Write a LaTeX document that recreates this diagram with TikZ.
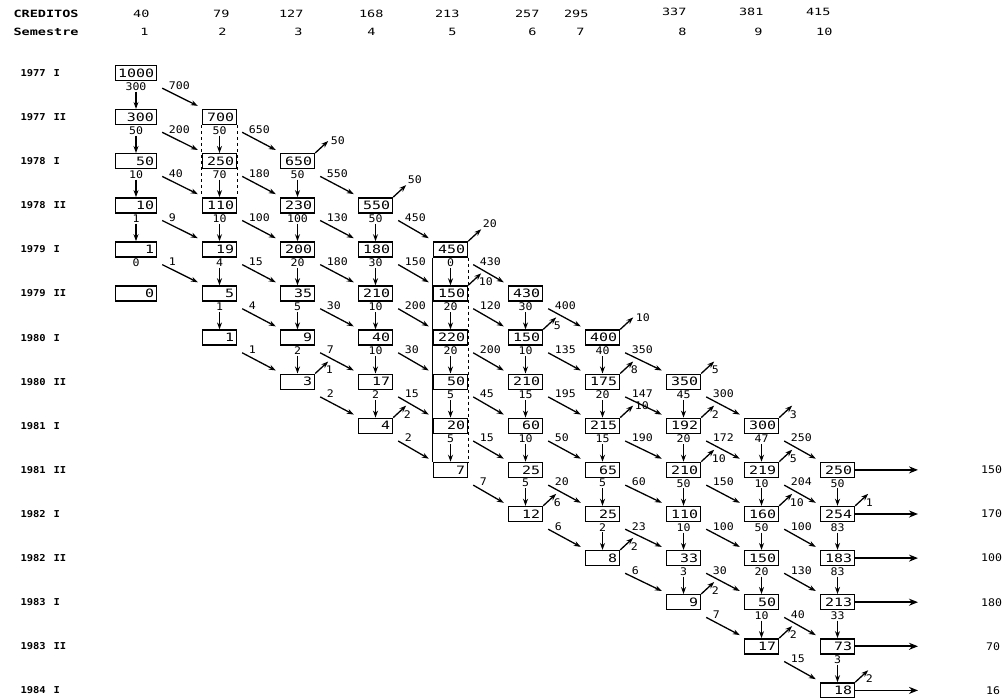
\documentclass[tikz,border=0pt]{standalone}
\usepackage{fontspec}
\usetikzlibrary{arrows.meta}

\newfontfamily\boxfont[FakeStretch=1.3]{DejaVu Sans Mono}
\newfontfamily\flowfont[FakeStretch=1.1]{DejaVu Sans Mono}
\newfontfamily\headfont[FakeStretch=1.35]{DejaVu Sans Mono}

\tikzset{
  cell/.style={draw, line width=1.4pt, minimum height=15pt, text width=29pt,
    align=right, inner xsep=2.5pt, inner ysep=0pt,
    font=\boxfont\fontsize{11.5}{12}\selectfont},
  widecell/.style={cell, text width=36pt},
  flow/.style={inner sep=1pt, font=\flowfont\fontsize{10.5}{10.5}\selectfont},
  flowarrow/.style={line width=1.3pt, -{Stealth[length=7pt,width=5pt]}},
  outarrow/.style={line width=1.7pt, -{Stealth[length=9pt,width=7pt]}},
  rowlabel/.style={anchor=west, font=\flowfont\bfseries\fontsize{9.5}{10}\selectfont},
  headlabel/.style={font=\headfont\fontsize{10}{10}\selectfont},
}

% down flow: source box, target box, amount
\newcommand{\flowdown}[3]{%
  \node[flow, anchor=north] (d-#1) at (#1.south) {#3};
  \draw[flowarrow] (d-#1.south) -- (#2.north);}
% diagonal flow to the next semester
\newcommand{\flowdiag}[3]{%
  \draw[flowarrow] ([shift={(5,7)}]#1.south east) -- ([shift={(-4,-3)}]#2.north west)
    node[flow, pos=0, anchor=west, xshift=5pt, yshift=3pt] {#3};}
% leaving students
\newcommand{\flowexit}[3][anchor=north west, xshift=-4pt, yshift=-3pt]{%
  \draw[flowarrow] (#2.north east) -- ++(13,-12) node[flow, #1] {#3};}

\begin{document}
\begin{tikzpicture}[x=1pt,y=-1pt]
\useasboundingbox (0,0) rectangle (1006,698);

% header
\node[headlabel, font=\headfont\bfseries\fontsize{10}{10}\selectfont, anchor=west] (cred) at (10,14) {CREDITOS};
\node[headlabel, font=\headfont\bfseries\fontsize{10}{10}\selectfont, anchor=west] (sem) at (10,32) {Semestre};

\node[headlabel, anchor=east] (k-1) at (153,14) {40};
\node[headlabel, anchor=east] (k-2) at (233,14) {79};
\node[headlabel, anchor=east] (k-3) at (307,14) {127};
\node[headlabel, anchor=east] (k-4) at (387,14) {168};
\node[headlabel, anchor=east] (k-5) at (463,14) {213};
\node[headlabel, anchor=east] (k-6) at (543,14) {257};
\node[headlabel, anchor=east] (k-7) at (592,14) {295};
\node[headlabel, anchor=east] (k-8) at (690,12) {337};
\node[headlabel, anchor=east] (k-9) at (767,12) {381};
\node[headlabel, anchor=east] (k-10) at (834,12) {415};

\node[headlabel, anchor=east] (s-1) at (152,32) {1};
\node[headlabel, anchor=east] (s-2) at (230,32) {2};
\node[headlabel, anchor=east] (s-3) at (306,32) {3};
\node[headlabel, anchor=east] (s-4) at (379,32) {4};
\node[headlabel, anchor=east] (s-5) at (460,32) {5};
\node[headlabel, anchor=east] (s-6) at (540,32) {6};
\node[headlabel, anchor=east] (s-7) at (588,32) {7};
\node[headlabel, anchor=east] (s-8) at (690,32) {8};
\node[headlabel, anchor=east] (s-9) at (766,32) {9};
\node[headlabel, anchor=east] (s-10) at (836,32) {10};

% periods
\node[rowlabel] (y-0) at (17,73.0) {1977\hspace{8pt}I};
\node[rowlabel] (y-1) at (17,117.1) {1977\hspace{8pt}II};
\node[rowlabel] (y-2) at (17,161.2) {1978\hspace{8pt}I};
\node[rowlabel] (y-3) at (17,205.3) {1978\hspace{8pt}II};
\node[rowlabel] (y-4) at (17,249.4) {1979\hspace{8pt}I};
\node[rowlabel] (y-5) at (17,293.5) {1979\hspace{8pt}II};
\node[rowlabel] (y-6) at (17,337.6) {1980\hspace{8pt}I};
\node[rowlabel] (y-7) at (17,381.7) {1980\hspace{8pt}II};
\node[rowlabel] (y-8) at (17,425.8) {1981\hspace{8pt}I};
\node[rowlabel] (y-9) at (17,469.9) {1981\hspace{8pt}II};
\node[rowlabel] (y-10) at (17,514.0) {1982\hspace{8pt}I};
\node[rowlabel] (y-11) at (17,558.1) {1982\hspace{8pt}II};
\node[rowlabel] (y-12) at (17,602.2) {1983\hspace{8pt}I};
\node[rowlabel] (y-13) at (17,646.3) {1983\hspace{8pt}II};
\node[rowlabel] (y-14) at (17,690.4) {1984\hspace{8pt}I};

% semester 1
\node[widecell] (b-1-0) at (136,73.0) {1000};
\node[widecell] (b-1-1) at (136,117.1) {300};
\node[widecell] (b-1-2) at (136,161.2) {50};
\node[widecell] (b-1-3) at (136,205.3) {10};
\node[widecell] (b-1-4) at (136,249.4) {1};
\node[widecell] (b-1-5) at (136,293.5) {0};
% semester 2
\node[cell] (b-2-1) at (219.5,117.1) {700};
\node[cell] (b-2-2) at (219.5,161.2) {250};
\node[cell] (b-2-3) at (219.5,205.3) {110};
\node[cell] (b-2-4) at (219.5,249.4) {19};
\node[cell] (b-2-5) at (219.5,293.5) {5};
\node[cell] (b-2-6) at (219.5,337.6) {1};
% semester 3
\node[cell] (b-3-2) at (297.5,161.2) {650};
\node[cell] (b-3-3) at (297.5,205.3) {230};
\node[cell] (b-3-4) at (297.5,249.4) {200};
\node[cell] (b-3-5) at (297.5,293.5) {35};
\node[cell] (b-3-6) at (297.5,337.6) {9};
\node[cell] (b-3-7) at (297.5,381.7) {3};
% semester 4
\node[cell] (b-4-3) at (375.5,205.3) {550};
\node[cell] (b-4-4) at (375.5,249.4) {180};
\node[cell] (b-4-5) at (375.5,293.5) {210};
\node[cell] (b-4-6) at (375.5,337.6) {40};
\node[cell] (b-4-7) at (375.5,381.7) {17};
\node[cell] (b-4-8) at (375.5,425.8) {4};
% semester 5
\node[cell] (b-5-4) at (450.5,249.4) {450};
\node[cell] (b-5-5) at (450.5,293.5) {150};
\node[cell] (b-5-6) at (450.5,337.6) {220};
\node[cell] (b-5-7) at (450.5,381.7) {50};
\node[cell] (b-5-8) at (450.5,425.8) {20};
\node[cell] (b-5-9) at (450.5,469.9) {7};
% semester 6
\node[cell] (b-6-5) at (525.5,293.5) {430};
\node[cell] (b-6-6) at (525.5,337.6) {150};
\node[cell] (b-6-7) at (525.5,381.7) {210};
\node[cell] (b-6-8) at (525.5,425.8) {60};
\node[cell] (b-6-9) at (525.5,469.9) {25};
\node[cell] (b-6-10) at (525.5,514.0) {12};
% semester 7
\node[cell] (b-7-6) at (602.5,337.6) {400};
\node[cell] (b-7-7) at (602.5,381.7) {175};
\node[cell] (b-7-8) at (602.5,425.8) {215};
\node[cell] (b-7-9) at (602.5,469.9) {65};
\node[cell] (b-7-10) at (602.5,514.0) {25};
\node[cell] (b-7-11) at (602.5,558.1) {8};
% semester 8
\node[cell] (b-8-7) at (683.5,381.7) {350};
\node[cell] (b-8-8) at (683.5,425.8) {192};
\node[cell] (b-8-9) at (683.5,469.9) {210};
\node[cell] (b-8-10) at (683.5,514.0) {110};
\node[cell] (b-8-11) at (683.5,558.1) {33};
\node[cell] (b-8-12) at (683.5,602.2) {9};
% semester 9
\node[cell] (b-9-8) at (761.5,425.8) {300};
\node[cell] (b-9-9) at (761.5,469.9) {219};
\node[cell] (b-9-10) at (761.5,514.0) {160};
\node[cell] (b-9-11) at (761.5,558.1) {150};
\node[cell] (b-9-12) at (761.5,602.2) {50};
\node[cell] (b-9-13) at (761.5,646.3) {17};
% semester 10
\node[cell] (b-10-9) at (837.5,469.9) {250};
\node[cell] (b-10-10) at (837.5,514.0) {254};
\node[cell] (b-10-11) at (837.5,558.1) {183};
\node[cell] (b-10-12) at (837.5,602.2) {213};
\node[cell] (b-10-13) at (837.5,646.3) {73};
\node[cell] (b-10-14) at (837.5,690.4) {18};

% side lines
\draw[dashed, line width=0.7pt] (b-2-1.south west) -- (b-2-3.north west);
\draw[dashed, line width=0.7pt] (b-2-1.south east) -- (b-2-3.north east);
\draw[line width=1pt] (b-5-4.south west) -- (b-5-9.north west);
\draw[dashed, line width=0.7pt] (b-5-4.south east) -- (b-5-9.north east);

% staying in the same semester
\flowdown{b-1-0}{b-1-1}{300}
\flowdown{b-1-1}{b-1-2}{50}
\flowdown{b-1-2}{b-1-3}{10}
\flowdown{b-1-3}{b-1-4}{1}
\node[flow, anchor=north] (d-b-1-4) at (b-1-4.south) {0};
\flowdown{b-2-1}{b-2-2}{50}
\flowdown{b-2-2}{b-2-3}{70}
\flowdown{b-2-3}{b-2-4}{10}
\flowdown{b-2-4}{b-2-5}{4}
\flowdown{b-2-5}{b-2-6}{1}
\flowdown{b-3-2}{b-3-3}{50}
\flowdown{b-3-3}{b-3-4}{100}
\flowdown{b-3-4}{b-3-5}{20}
\flowdown{b-3-5}{b-3-6}{5}
\flowdown{b-3-6}{b-3-7}{2}
\flowdown{b-4-3}{b-4-4}{50}
\flowdown{b-4-4}{b-4-5}{30}
\flowdown{b-4-5}{b-4-6}{10}
\flowdown{b-4-6}{b-4-7}{10}
\flowdown{b-4-7}{b-4-8}{2}
\flowdown{b-5-4}{b-5-5}{0}
\flowdown{b-5-5}{b-5-6}{20}
\flowdown{b-5-6}{b-5-7}{20}
\flowdown{b-5-7}{b-5-8}{5}
\flowdown{b-5-8}{b-5-9}{5}
\flowdown{b-6-5}{b-6-6}{30}
\flowdown{b-6-6}{b-6-7}{10}
\flowdown{b-6-7}{b-6-8}{15}
\flowdown{b-6-8}{b-6-9}{10}
\flowdown{b-6-9}{b-6-10}{5}
\flowdown{b-7-6}{b-7-7}{40}
\flowdown{b-7-7}{b-7-8}{20}
\flowdown{b-7-8}{b-7-9}{15}
\flowdown{b-7-9}{b-7-10}{5}
\flowdown{b-7-10}{b-7-11}{2}
\flowdown{b-8-7}{b-8-8}{45}
\flowdown{b-8-8}{b-8-9}{20}
\flowdown{b-8-9}{b-8-10}{50}
\flowdown{b-8-10}{b-8-11}{10}
\flowdown{b-8-11}{b-8-12}{3}
\flowdown{b-9-8}{b-9-9}{47}
\flowdown{b-9-9}{b-9-10}{10}
\flowdown{b-9-10}{b-9-11}{50}
\flowdown{b-9-11}{b-9-12}{20}
\flowdown{b-9-12}{b-9-13}{10}
\flowdown{b-10-9}{b-10-10}{50}
\flowdown{b-10-10}{b-10-11}{83}
\flowdown{b-10-11}{b-10-12}{83}
\flowdown{b-10-12}{b-10-13}{33}
\flowdown{b-10-13}{b-10-14}{3}

% passing to the next semester
\flowdiag{b-1-0}{b-2-1}{700}
\flowdiag{b-1-1}{b-2-2}{200}
\flowdiag{b-1-2}{b-2-3}{40}
\flowdiag{b-1-3}{b-2-4}{9}
\flowdiag{b-1-4}{b-2-5}{1}
\flowdiag{b-2-1}{b-3-2}{650}
\flowdiag{b-2-2}{b-3-3}{180}
\flowdiag{b-2-3}{b-3-4}{100}
\flowdiag{b-2-4}{b-3-5}{15}
\flowdiag{b-2-5}{b-3-6}{4}
\flowdiag{b-2-6}{b-3-7}{1}
\flowdiag{b-3-2}{b-4-3}{550}
\flowdiag{b-3-3}{b-4-4}{130}
\flowdiag{b-3-4}{b-4-5}{180}
\flowdiag{b-3-5}{b-4-6}{30}
\flowdiag{b-3-6}{b-4-7}{7}
\flowdiag{b-3-7}{b-4-8}{2}
\flowdiag{b-4-3}{b-5-4}{450}
\flowdiag{b-4-4}{b-5-5}{150}
\flowdiag{b-4-5}{b-5-6}{200}
\flowdiag{b-4-6}{b-5-7}{30}
\flowdiag{b-4-7}{b-5-8}{15}
\flowdiag{b-4-8}{b-5-9}{2}
\flowdiag{b-5-4}{b-6-5}{430}
\flowdiag{b-5-5}{b-6-6}{120}
\flowdiag{b-5-6}{b-6-7}{200}
\flowdiag{b-5-7}{b-6-8}{45}
\flowdiag{b-5-8}{b-6-9}{15}
\flowdiag{b-5-9}{b-6-10}{7}
\flowdiag{b-6-5}{b-7-6}{400}
\flowdiag{b-6-6}{b-7-7}{135}
\flowdiag{b-6-7}{b-7-8}{195}
\flowdiag{b-6-8}{b-7-9}{50}
\flowdiag{b-6-9}{b-7-10}{20}
\flowdiag{b-6-10}{b-7-11}{6}
\flowdiag{b-7-6}{b-8-7}{350}
\flowdiag{b-7-7}{b-8-8}{147}
\flowdiag{b-7-8}{b-8-9}{190}
\flowdiag{b-7-9}{b-8-10}{60}
\flowdiag{b-7-10}{b-8-11}{23}
\flowdiag{b-7-11}{b-8-12}{6}
\flowdiag{b-8-7}{b-9-8}{300}
\flowdiag{b-8-8}{b-9-9}{172}
\flowdiag{b-8-9}{b-9-10}{150}
\flowdiag{b-8-10}{b-9-11}{100}
\flowdiag{b-8-11}{b-9-12}{30}
\flowdiag{b-8-12}{b-9-13}{7}
\flowdiag{b-9-8}{b-10-9}{250}
\flowdiag{b-9-9}{b-10-10}{204}
\flowdiag{b-9-10}{b-10-11}{100}
\flowdiag{b-9-11}{b-10-12}{130}
\flowdiag{b-9-12}{b-10-13}{40}
\flowdiag{b-9-13}{b-10-14}{15}

% leaving
\flowexit[anchor=west, xshift=1pt]{b-3-2}{50}
\flowexit[anchor=south west]{b-4-3}{50}
\flowexit[anchor=south west]{b-5-4}{20}
\flowexit{b-5-5}{10}
\flowexit{b-3-7}{1}
\flowexit{b-6-6}{5}
\flowexit[anchor=west, xshift=1pt]{b-7-6}{10}
\flowexit{b-4-8}{2}
\flowexit{b-7-7}{8}
\flowexit{b-8-7}{5}
\flowexit[anchor=west]{b-7-8}{10}
\flowexit{b-8-8}{2}
\flowexit{b-9-8}{3}
\flowexit{b-8-9}{10}
\flowexit{b-9-9}{5}
\flowexit{b-6-10}{6}
\flowexit{b-9-10}{10}
\flowexit{b-10-10}{1}
\flowexit{b-7-11}{2}
\flowexit{b-8-12}{2}
\flowexit{b-9-13}{2}
\flowexit{b-10-14}{2}

% out of the last semester
\coordinate (o-9) at (918,469.9);
\coordinate (o-10) at (918,514.0);
\coordinate (o-11) at (918,558.1);
\coordinate (o-12) at (918,602.2);
\coordinate (o-13) at (918,646.3);
\coordinate (o-14) at (918,690.4);
\draw[outarrow] (b-10-9.east) -- (o-9);
\draw[outarrow] (b-10-10.east) -- (o-10);
\draw[outarrow] (b-10-11.east) -- (o-11);
\draw[outarrow] (b-10-12.east) -- (o-12);
\draw[outarrow] (b-10-13.east) -- (o-13);
\draw[outarrow] (b-10-14.east) -- (o-14);
\node[flow, anchor=west] (t-9) at (980,469.9) {150};
\node[flow, anchor=west] (t-10) at (980,514.0) {170};
\node[flow, anchor=west] (t-11) at (980,558.1) {100};
\node[flow, anchor=west] (t-12) at (980,602.2) {180};
\node[flow, anchor=west] (t-13) at (985,646.3) {70};
\node[flow, anchor=west] (t-14) at (985,690.4) {16};
\end{tikzpicture}
\end{document}
